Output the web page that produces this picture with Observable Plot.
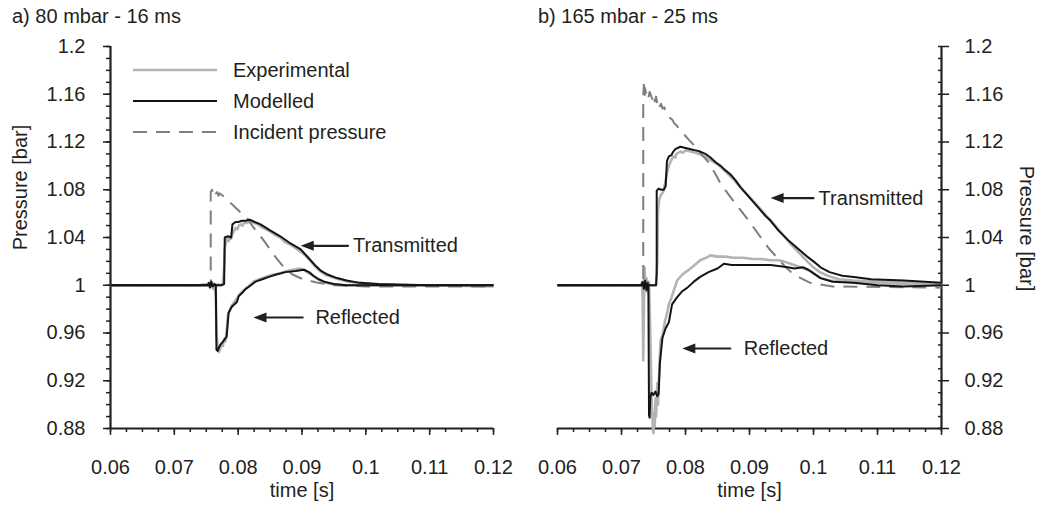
<!DOCTYPE html>
<html>
<head>
<meta charset="utf-8">
<script src="https://cdn.jsdelivr.net/npm/d3@7"></script>
<script src="https://cdn.jsdelivr.net/npm/@observablehq/plot@0.6"></script>
<style>
  body { margin: 0; background: #fff; }
  #fig { position: relative; width: 1043px; height: 505px; font-family: "Liberation Sans", Arial, Helvetica, sans-serif; color: #231f20; }
  #fig .panel { position: absolute; top: 0; }
  #fig .title { position: absolute; top: 4px; font-size: 20px; line-height: 24px; white-space: nowrap; }
  #fig svg.legend { position: absolute; left: 0; top: 0; }
</style>
</head>
<body>
<div id="fig"></div>
<script>
// ---- axis ticks -------------------------------------------------------------
const xTicks = [0.06, 0.07, 0.08, 0.09, 0.10, 0.11, 0.12];
const xTickLabels = ["0.06", "0.07", "0.08", "0.09", "0.1", "0.11", "0.12"];
const yTicks = [0.88, 0.92, 0.96, 1.00, 1.04, 1.08, 1.12, 1.16, 1.20];
const yTickLabels = ["0.88", "0.92", "0.96", "1", "1.04", "1.08", "1.12", "1.16", "1.2"];
const panelTitles = ["a) 80 mbar - 16 ms", "b) 165 mbar - 25 ms"];
const seriesNames = ["Experimental", "Modelled", "Incident pressure"];

// ---- a) 80 mbar - 16 ms : [time (s), pressure (bar)] --------------------------
const aIncident = [[0.0600,1.000],[0.0757,1.000],[0.0757,1.078],[0.0759,1.080],[0.0761,1.076],[0.0763,1.079],[0.0765,1.077],[0.0767,1.078],[0.0769,1.075],[0.0771,1.077],[0.0773,1.076],[0.0776,1.075],[0.0779,1.073],[0.0782,1.072],[0.0785,1.071],[0.0788,1.069],[0.0792,1.067],[0.0796,1.065],[0.0800,1.063],[0.0807,1.059],[0.0814,1.056],[0.0822,1.050],[0.0830,1.044],[0.0838,1.039],[0.0846,1.033],[0.0858,1.024],[0.0870,1.016],[0.0885,1.009],[0.0902,1.005],[0.0925,1.002],[0.0950,1.000],[0.1000,0.999],[0.1100,0.999],[0.1200,0.999]];
const aExpTrans = [[0.0600,1.000],[0.0740,1.000],[0.0752,1.001],[0.0756,0.999],[0.0760,1.002],[0.0764,0.998],[0.0768,1.001],[0.0772,1.000],[0.0776,1.002],[0.0778,1.014],[0.0779,1.031],[0.0781,1.036],[0.0783,1.039],[0.0785,1.037],[0.0787,1.040],[0.0789,1.039],[0.0791,1.043],[0.0793,1.045],[0.0796,1.048],[0.0799,1.047],[0.0801,1.050],[0.0804,1.051],[0.0807,1.050],[0.0810,1.053],[0.0814,1.052],[0.0818,1.054],[0.0822,1.053],[0.0826,1.052],[0.0831,1.051],[0.0836,1.049],[0.0843,1.047],[0.0850,1.045],[0.0858,1.042],[0.0866,1.040],[0.0874,1.036],[0.0882,1.034],[0.0890,1.031],[0.0898,1.028],[0.0905,1.025],[0.0912,1.021],[0.0920,1.016],[0.0928,1.012],[0.0936,1.009],[0.0946,1.007],[0.0958,1.005],[0.0972,1.003],[0.0990,1.002],[0.1010,1.001],[0.1050,1.000],[0.1100,1.000],[0.1200,0.999]];
const aModTrans = [[0.0600,1.000],[0.0774,1.000],[0.0778,1.001],[0.0779,1.040],[0.0784,1.041],[0.0789,1.040],[0.0791,1.051],[0.0796,1.053],[0.0800,1.053],[0.0806,1.054],[0.0812,1.054],[0.0818,1.055],[0.0826,1.053],[0.0835,1.051],[0.0850,1.046],[0.0866,1.041],[0.0882,1.035],[0.0898,1.030],[0.0910,1.023],[0.0920,1.017],[0.0930,1.012],[0.0940,1.009],[0.0955,1.006],[0.0970,1.004],[0.0990,1.002],[0.1020,1.001],[0.1100,1.000],[0.1200,1.000]];
const aExpRefl = [[0.0600,1.000],[0.0740,1.000],[0.0752,1.001],[0.0755,0.999],[0.0758,1.002],[0.0761,0.997],[0.0763,1.001],[0.0765,0.990],[0.0766,0.960],[0.0768,0.948],[0.0770,0.944],[0.0772,0.947],[0.0774,0.951],[0.0776,0.949],[0.0778,0.955],[0.0780,0.953],[0.0782,0.962],[0.0784,0.975],[0.0787,0.979],[0.0790,0.983],[0.0794,0.986],[0.0798,0.989],[0.0803,0.993],[0.0809,0.996],[0.0816,0.999],[0.0824,1.003],[0.0833,1.005],[0.0843,1.007],[0.0855,1.009],[0.0866,1.010],[0.0876,1.012],[0.0886,1.013],[0.0896,1.014],[0.0903,1.013],[0.0908,1.011],[0.0914,1.009],[0.0922,1.006],[0.0932,1.003],[0.0945,1.001],[0.0965,1.000],[0.1200,1.000]];
const aModRefl = [[0.0600,1.000],[0.0752,1.000],[0.0754,1.002],[0.0756,0.998],[0.0758,1.003],[0.0760,0.999],[0.0763,1.001],[0.0765,1.000],[0.0766,0.946],[0.0768,0.945],[0.0770,0.948],[0.0772,0.950],[0.0775,0.952],[0.0778,0.954],[0.0782,0.957],[0.0785,0.977],[0.0790,0.982],[0.0798,0.986],[0.0801,0.991],[0.0807,0.994],[0.0812,0.997],[0.0820,1.000],[0.0827,1.003],[0.0838,1.005],[0.0848,1.007],[0.0860,1.009],[0.0874,1.011],[0.0890,1.012],[0.0903,1.013],[0.0911,1.011],[0.0918,1.008],[0.0926,1.005],[0.0935,1.003],[0.0950,1.001],[0.0970,1.000],[0.1200,1.000]];

// ---- b) 165 mbar - 25 ms --------------------------------------------------------
const bIncident = [[0.0600,1.000],[0.0734,1.000],[0.0734,1.160],[0.0735,1.168],[0.0736,1.158],[0.0737,1.165],[0.0738,1.161],[0.0740,1.163],[0.0742,1.157],[0.0744,1.162],[0.0746,1.159],[0.0748,1.156],[0.0750,1.160],[0.0752,1.154],[0.0754,1.158],[0.0756,1.152],[0.0758,1.155],[0.0760,1.150],[0.0762,1.152],[0.0764,1.148],[0.0767,1.149],[0.0770,1.144],[0.0773,1.143],[0.0776,1.140],[0.0779,1.139],[0.0782,1.136],[0.0786,1.134],[0.0790,1.131],[0.0795,1.128],[0.0800,1.125],[0.0805,1.122],[0.0812,1.118],[0.0820,1.113],[0.0828,1.108],[0.0836,1.103],[0.0847,1.093],[0.0855,1.085],[0.0870,1.074],[0.0886,1.063],[0.0899,1.054],[0.0915,1.042],[0.0930,1.031],[0.0945,1.022],[0.0955,1.016],[0.0965,1.011],[0.0980,1.006],[0.0995,1.002],[0.1030,0.999],[0.1200,0.998]];
const bExpTrans = [[0.0600,1.000],[0.0754,1.000],[0.0756,1.020],[0.0757,1.062],[0.0759,1.072],[0.0762,1.076],[0.0765,1.078],[0.0768,1.085],[0.0771,1.094],[0.0774,1.100],[0.0777,1.104],[0.0781,1.108],[0.0784,1.107],[0.0786,1.110],[0.0789,1.111],[0.0792,1.112],[0.0796,1.111],[0.0800,1.113],[0.0808,1.112],[0.0816,1.111],[0.0825,1.109],[0.0835,1.106],[0.0845,1.103],[0.0855,1.099],[0.0865,1.094],[0.0876,1.088],[0.0888,1.081],[0.0900,1.074],[0.0912,1.067],[0.0925,1.059],[0.0935,1.053],[0.0948,1.045],[0.0962,1.036],[0.0976,1.028],[0.0990,1.020],[0.1000,1.015],[0.1010,1.011],[0.1022,1.008],[0.1040,1.005],[0.1063,1.004],[0.1100,1.003],[0.1150,1.002],[0.1200,1.001]];
const bModTrans = [[0.0600,1.000],[0.0754,1.000],[0.0755,1.010],[0.0755,1.079],[0.0758,1.081],[0.0762,1.080],[0.0766,1.080],[0.0769,1.083],[0.0771,1.104],[0.0774,1.108],[0.0778,1.109],[0.0781,1.112],[0.0784,1.114],[0.0792,1.116],[0.0800,1.115],[0.0808,1.114],[0.0816,1.113],[0.0823,1.112],[0.0831,1.110],[0.0839,1.107],[0.0847,1.103],[0.0855,1.100],[0.0863,1.096],[0.0870,1.093],[0.0878,1.088],[0.0886,1.082],[0.0899,1.074],[0.0912,1.066],[0.0925,1.058],[0.0933,1.054],[0.0945,1.046],[0.0960,1.038],[0.0975,1.031],[0.0990,1.024],[0.1000,1.020],[0.1011,1.015],[0.1025,1.011],[0.1045,1.008],[0.1063,1.007],[0.1090,1.005],[0.1141,1.004],[0.1200,1.002]];
const bExpRefl = [[0.0600,1.000],[0.0730,1.000],[0.0732,1.002],[0.0733,0.990],[0.0734,0.937],[0.0735,0.985],[0.0736,1.015],[0.0737,0.995],[0.0739,1.006],[0.0741,0.994],[0.0743,1.003],[0.0745,0.960],[0.0747,0.905],[0.0749,0.880],[0.0750,0.876],[0.0751,0.893],[0.0752,0.882],[0.0753,0.905],[0.0754,0.890],[0.0756,0.918],[0.0757,0.900],[0.0759,0.930],[0.0761,0.954],[0.0764,0.958],[0.0768,0.970],[0.0771,0.976],[0.0774,0.984],[0.0777,0.988],[0.0782,0.996],[0.0787,1.004],[0.0795,1.009],[0.0803,1.012],[0.0812,1.016],[0.0823,1.021],[0.0832,1.023],[0.0839,1.025],[0.0850,1.024],[0.0862,1.024],[0.0875,1.023],[0.0890,1.023],[0.0905,1.022],[0.0917,1.022],[0.0933,1.021],[0.0945,1.021],[0.0953,1.020],[0.0964,1.018],[0.0975,1.016],[0.0985,1.014],[0.0995,1.012],[0.1003,1.009],[0.1011,1.006],[0.1025,1.004],[0.1045,1.003],[0.1070,1.002],[0.1100,1.002],[0.1141,1.001],[0.1200,1.000]];
const bModRefl = [[0.0600,1.000],[0.0731,1.000],[0.0733,1.003],[0.0735,0.997],[0.0737,1.004],[0.0739,0.996],[0.0741,1.002],[0.0742,0.999],[0.0743,0.891],[0.0744,0.889],[0.0745,0.906],[0.0747,0.910],[0.0750,0.908],[0.0753,0.911],[0.0756,0.907],[0.0758,0.909],[0.0760,0.935],[0.0764,0.956],[0.0769,0.964],[0.0774,0.969],[0.0779,0.984],[0.0787,0.990],[0.0795,0.995],[0.0803,0.998],[0.0813,1.003],[0.0823,1.007],[0.0836,1.011],[0.0850,1.014],[0.0860,1.018],[0.0872,1.017],[0.0886,1.017],[0.0900,1.017],[0.0917,1.017],[0.0933,1.017],[0.0948,1.016],[0.0960,1.015],[0.0970,1.014],[0.0984,1.015],[0.0992,1.013],[0.1000,1.010],[0.1011,1.006],[0.1030,1.003],[0.1063,1.002],[0.1100,1.000],[0.1141,0.999],[0.1200,1.000]];

// ---- callouts: arrow tip / tail / text start (time) at a pressure level --------
const aNotes = [
  {label: "Transmitted", p: 1.033, tip: 0.0898, tail: 0.0972, textAt: 0.0980},
  {label: "Reflected",   p: 0.973, tip: 0.0824, tail: 0.0901, textAt: 0.0921}
];
const bNotes = [
  {label: "Transmitted", p: 1.073, tip: 0.0933, tail: 0.1000, textAt: 0.1008},
  {label: "Reflected",   p: 0.947, tip: 0.0795, tail: 0.0870, textAt: 0.0891}
];

// ---- drawing -------------------------------------------------------------------
const ink = "#231f20";
const fontFamily = "'Liberation Sans', Arial, Helvetica, sans-serif";
const look = {
  experimental: {stroke: "#b3b3b3", strokeWidth: 2.6},
  modelled: {stroke: "#141414", strokeWidth: 2},
  incident: {stroke: "#7f7f7f", strokeWidth: 2, strokeDasharray: "14,9"}
};
const xMinor = d3.range(25).map(i => 0.06 + i * 0.0025);
const yMinor = d3.range(33).map(i => 0.88 + i * 0.01);

// filled arrow head, tip at the anchor, pointing left
const arrowHead = {draw(ctx) { ctx.moveTo(0, 0); ctx.lineTo(13, -5); ctx.lineTo(13, 5); ctx.closePath(); }};

const line = (data, style) =>
  Plot.line(data, {x: d => d[0], y: d => d[1], strokeLinejoin: "round", strokeLinecap: "butt", ...style});

function callouts(notes) {
  return [
    Plot.arrow(notes, {x1: "tail", x2: "tip", y1: "p", y2: "p", stroke: ink, strokeWidth: 2.2, headLength: 0, insetEnd: 8}),
    Plot.dot(notes, {x: "tip", y: "p", symbol: arrowHead, fill: ink, stroke: "none"}),
    Plot.text(notes, {x: "textAt", y: "p", text: "label", textAnchor: "start", fill: ink, fontSize: 20})
  ];
}

function panel(side, series, notes) {
  const left = side === "left";
  const anchor = left ? "left" : "right";
  return Plot.plot({
    width: left ? 520 : 523,
    height: 505,
    marginTop: 46,
    marginBottom: 77,
    marginLeft: left ? 110 : 37,
    marginRight: left ? 27 : 102,
    x: {domain: [0.06, 0.12]},
    y: {domain: [0.88, 1.2]},
    style: {fontFamily, fontSize: "20px", color: ink, background: "transparent", overflow: "visible"},
    marks: [
      // axes
      Plot.axisX({ticks: xMinor, tickSize: 4, tickFormat: () => "", label: null, strokeWidth: 1.5, stroke: ink}),
      Plot.axisX({ticks: xTicks, tickSize: 7, tickPadding: 24, tickFormat: d => xTickLabels[xTicks.indexOf(d)],
                  label: null, strokeWidth: 1.5, stroke: ink, fill: ink, fontSize: 20}),
      Plot.axisY({anchor, ticks: yMinor, tickSize: 4, tickFormat: () => "", label: null, strokeWidth: 1.5, stroke: ink,
                  ...(left ? {} : {insetRight: 4})}),
      Plot.axisY({anchor, ticks: yTicks, tickSize: 7, tickPadding: left ? 18 : 16, tickFormat: d => yTickLabels[yTicks.indexOf(d)],
                  label: null, strokeWidth: 1.5, stroke: ink, fill: ink, fontSize: 20}),
      Plot.ruleY([0.88], {stroke: ink, strokeWidth: 2.2}),
      Plot.ruleX([left ? 0.06 : 0.12], {stroke: ink, strokeWidth: 2.2}),
      Plot.text(["time [s]"], {text: d => d, frameAnchor: "bottom", textAnchor: "middle", lineAnchor: "middle",
                               dy: 62, fill: ink, fontSize: 20}),
      Plot.text(["Pressure [bar]"], {text: d => d, frameAnchor: anchor, textAnchor: "middle", lineAnchor: "middle",
                                     rotate: left ? -90 : 90, dx: left ? -90 : 85, dy: left ? -50 : -9,
                                     fill: ink, fontSize: 20}),
      // series
      line(series.expTrans, look.experimental),
      line(series.expRefl, look.experimental),
      line(series.incident, look.incident),
      line(series.modRefl, look.modelled),
      line(series.modTrans, look.modelled),
      ...callouts(notes)
    ]
  });
}

const fig = document.getElementById("fig");

const leftSvg = panel("left", {incident: aIncident, expTrans: aExpTrans, modTrans: aModTrans, expRefl: aExpRefl, modRefl: aModRefl}, aNotes);
leftSvg.classList.add("panel");
leftSvg.style.left = "0px";
fig.appendChild(leftSvg);

const rightSvg = panel("right", {incident: bIncident, expTrans: bExpTrans, modTrans: bModTrans, expRefl: bExpRefl, modRefl: bModRefl}, bNotes);
rightSvg.classList.add("panel");
rightSvg.style.left = "520px";
fig.appendChild(rightSvg);

// panel titles
[[panelTitles[0], 12], [panelTitles[1], 538]].forEach(([t, x]) => {
  const div = document.createElement("div");
  div.className = "title";
  div.style.left = x + "px";
  div.textContent = t;
  fig.appendChild(div);
});

// legend (upper left of panel a)
const legend = d3.select(fig).append("svg").attr("class", "legend").attr("width", 400).attr("height", 160);
const legendRows = [look.experimental, look.modelled, look.incident];
legendRows.forEach((s, i) => {
  const y = 70 + i * 31;
  legend.append("line").attr("x1", 133).attr("x2", 217).attr("y1", y).attr("y2", y)
    .attr("stroke", s.stroke).attr("stroke-width", s.strokeWidth)
    .attr("stroke-dasharray", s.strokeDasharray || null);
  legend.append("text").attr("x", 233).attr("y", y).attr("dy", "0.35em")
    .attr("font-family", fontFamily).attr("font-size", 20).attr("fill", ink)
    .text(seriesNames[i]);
});
</script>
</body>
</html>
